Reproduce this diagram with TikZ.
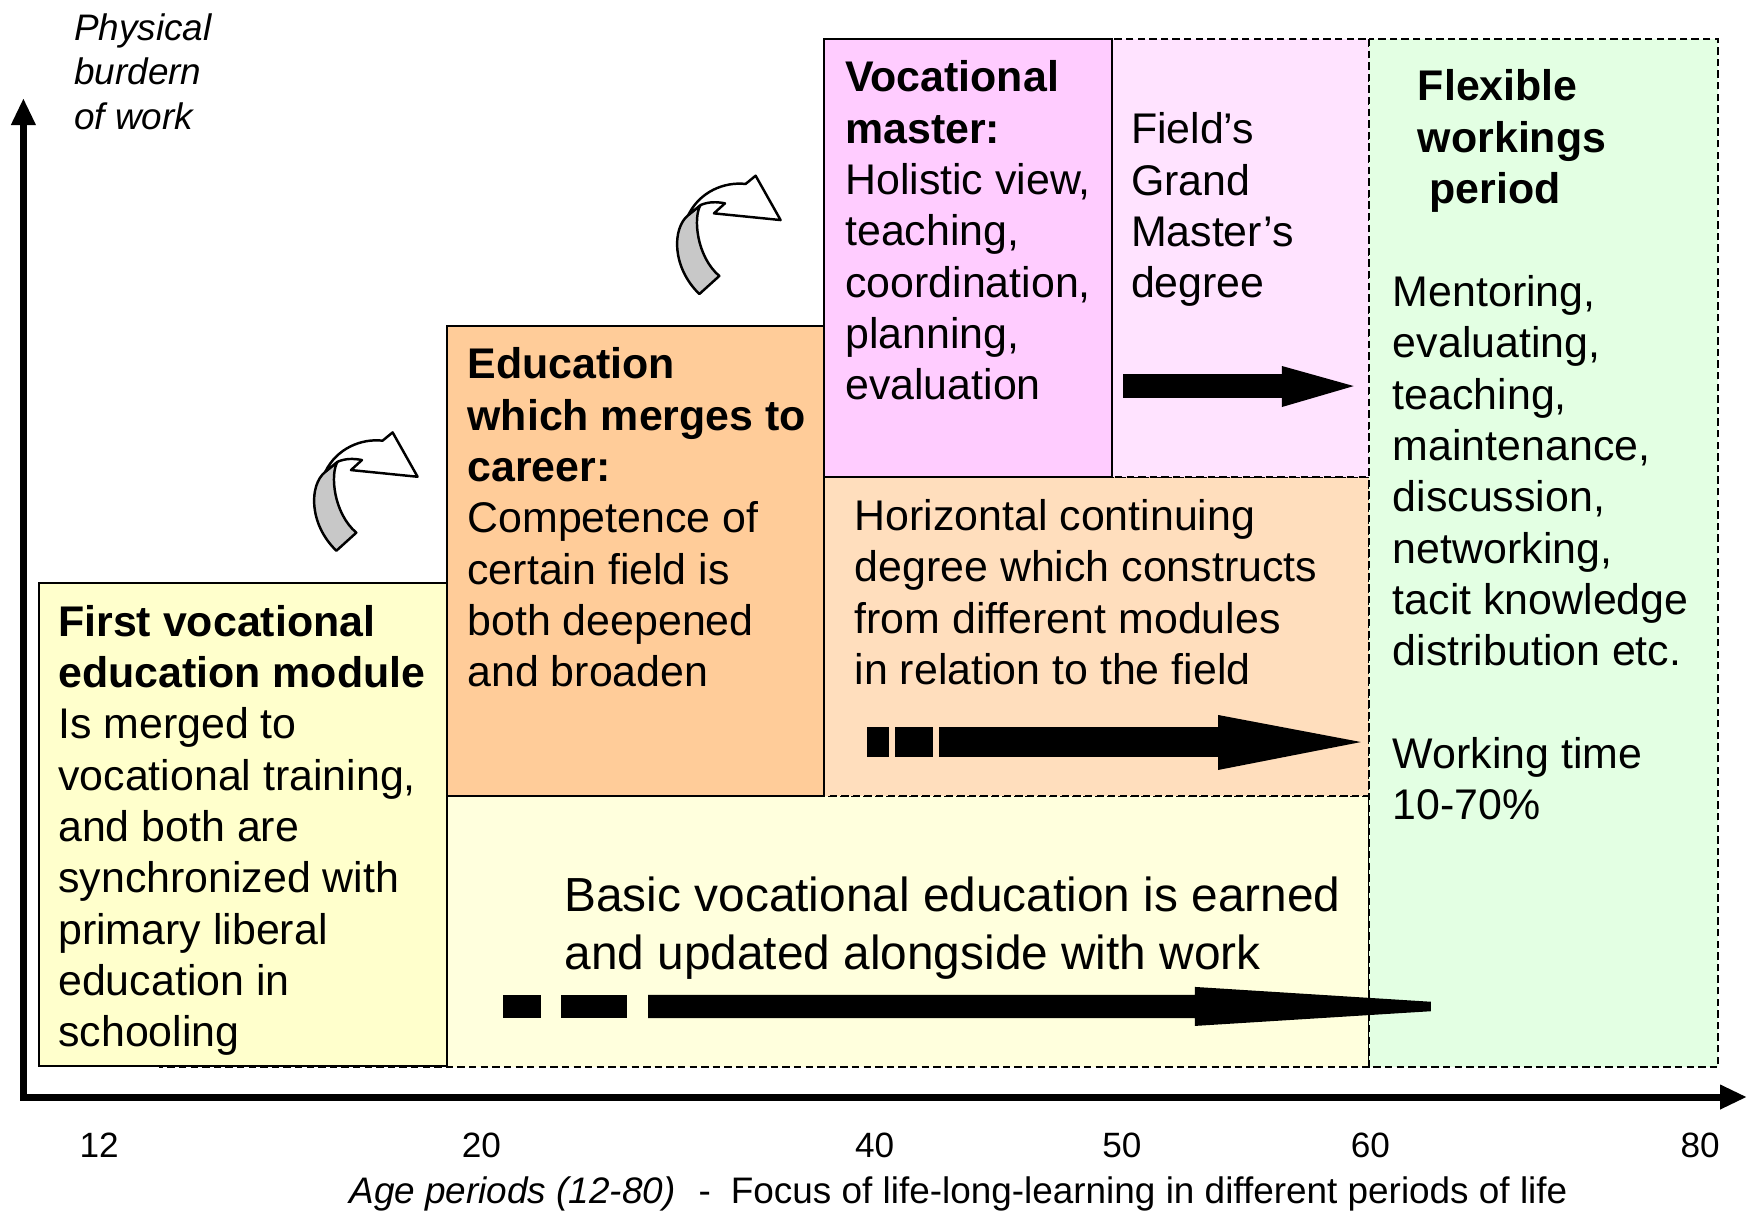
\documentclass[tikz,border=0pt]{standalone}
\usepackage{fontspec}
\setmainfont{Liberation Sans}
\usetikzlibrary{arrows.meta}
\definecolor{firstyel}{HTML}{FFFFCC}
\definecolor{basicyel}{HTML}{FFFFDD}
\definecolor{eduorange}{HTML}{FFCC99}
\definecolor{horpeach}{HTML}{FFDEBD}
\definecolor{vocpink}{HTML}{FFCCFF}
\definecolor{fieldpink}{HTML}{FFE3FF}
\definecolor{flexgreen}{HTML}{E3FFE3}
\definecolor{curvgrey}{HTML}{C8C8C8}
\tikzstyle{bx}=[draw=black,line width=0.6pt]
\tikzstyle{dbx}=[draw=black,line width=0.6pt,dash pattern=on 2.1pt off 1.2pt]
\tikzstyle{tx}=[anchor=north west,inner sep=0pt,align=left,font=\fontsize{12.2}{14.6}\selectfont]
\tikzstyle{tk}=[inner sep=0pt,font=\fontsize{10}{12}\selectfont]
\tikzstyle{curv}=[draw=black,line width=0.7pt,line join=round]

\begin{document}
\begin{tikzpicture}[x=0.011142cm,y=-0.011142cm,>={Triangle[length=2.7mm,width=2.3mm]}]
\useasboundingbox (0,0) rectangle (1568,1087);
% boxes
\draw[dbx,fill=basicyel] (144,714.4) rectangle (1229,958);
\draw[dbx,fill=horpeach] (739.5,428) rectangle (1229,714.4);
\draw[dbx,fill=fieldpink] (998,35) rectangle (1229,428);
\draw[dbx,fill=flexgreen] (1229,35) rectangle (1542,958);
\draw[bx,fill=firstyel] (35,523.2) rectangle (401.2,956.7);
\draw[bx,fill=eduorange] (401.2,292.6) rectangle (739.5,714.4);
\draw[bx,fill=vocpink] (739.5,35) rectangle (998,428);

% curved arrows
\foreach \dx/\dy in {0/0,-325.8/230.4}{
\begin{scope}[shift={(\dx,\dy)}]
\draw[curv,fill=curvgrey] (627.7,263.9) .. controls (603,240) and (603,205) .. (617.8,193.0)
  -- (628.8,184.0) .. controls (622,195) and (625,230) .. (645.6,247.7) -- cycle;
\draw[curv,fill=white] (617.8,193.0) .. controls (628,172) and (650,163) .. (669.2,165.1)
  -- (678.2,157.7) -- (700.6,197.5) -- (640.8,191.5) -- (650.7,182.5)
  .. controls (643,181) and (636,181) .. (628.8,184.0) -- cycle;
\end{scope}
}

% block arrows
\fill (1008,335.7) -- (1150.6,335.7) -- (1150.6,328.5) -- (1215,346.5) -- (1150.6,365.3)
  -- (1150.6,357.2) -- (1008,357.2) -- cycle;
\fill (778.1,652.5) rectangle (797.9,679.4);
\fill (803.3,652.5) rectangle (837.4,679.4);
\fill (842.8,652.5) -- (1093.2,652.5) -- (1093.2,641.7) -- (1221.5,666) -- (1093.2,691.1)
  -- (1093.2,679.4) -- (842.8,679.4) -- cycle;
\fill (451.4,893) rectangle (485.5,913.7);
\fill (503.5,893) rectangle (562.7,913.7);
\fill (581.6,893) -- (1072.5,893) -- (1072.5,885.8) -- (1284.3,899.1) -- (1284.3,907.6)
  -- (1072.5,920.8) -- (1072.5,913.7) -- (581.6,913.7) -- cycle;

% axes
\draw[line width=2pt,<->] (21,88) -- (21,984.6) -- (1568,984.6);

% texts
\node[tx] (first) at (51.7,542.5) {\textbf{First vocational}\\\textbf{education module}\\Is merged to\\vocational training,\\and both are\\synchronized with\\primary liberal\\education in\\schooling};
\node[tx] (edu) at (419,311.5) {\textbf{Education}\\\textbf{which merges to}\\\textbf{career:}\\Competence of\\certain field is\\both deepened\\and broaden};
\node[tx] (master) at (758,54) {\textbf{Vocational}\\\textbf{master:}\\Holistic view,\\teaching,\\coordination,\\planning,\\evaluation};
\node[tx] (grand) at (1014.5,100.5) {Field’s\\Grand\\Master’s\\degree};
\node[tx] (horiz) at (766.5,447.5) {Horizontal continuing\\degree which constructs\\from different modules\\in relation to the field};
\node[tx] (flexhead) at (1272,62) {\textbf{Flexible}\\\textbf{workings}\\\hspace*{3.3pt}\textbf{period}};
\node[tx] (flexbody) at (1249.5,246.5) {Mentoring,\\evaluating,\\teaching,\\maintenance,\\discussion,\\networking,\\tacit knowledge\\distribution etc.\\[14.6pt]Working time\\10-70\%};
\node[tx,font=\fontsize{13.6}{16.5}\selectfont] (basic) at (506,786.5) {Basic vocational education is earned\\and updated alongside with work};
\node[tx,font=\fontsize{10.5}{12.7}\selectfont\itshape] (burden) at (66,11.5) {Physical\\burdern\\of work};

% age scale
\node[tk] (a12) at (89,1028) {12};
\node[tk] (a20) at (432,1028) {20};
\node[tk] (a40) at (785,1028) {40};
\node[tk] (a50) at (1007,1028) {50};
\node[tk] (a60) at (1230,1028) {60};
\node[tk] (a80) at (1526,1028) {80};
\node[anchor=base west,inner sep=0pt,font=\fontsize{10.5}{12.7}\selectfont] (caption) at (313,1080) {\textit{Age periods (12-80)}\hspace{6.5pt}-\hspace{5.7pt}Focus of life-long-learning in different periods of life};
\end{tikzpicture}
\end{document}
